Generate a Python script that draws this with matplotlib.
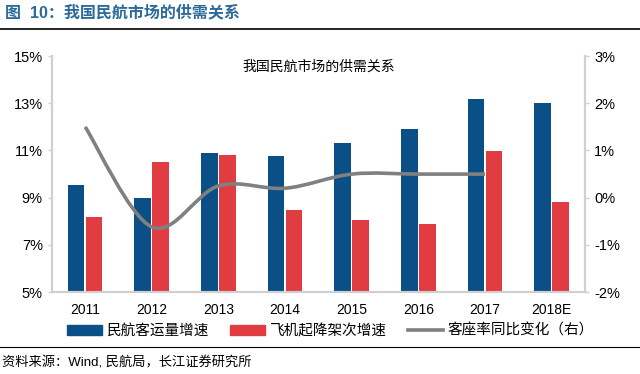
import matplotlib
matplotlib.use("Agg")
import matplotlib.pyplot as plt
import numpy as np
from matplotlib.path import Path
from matplotlib.patches import PathPatch, Patch
from matplotlib.lines import Line2D

plt.rcParams['font.family'] = ['Liberation Sans', 'Noto Sans CJK SC', 'DejaVu Sans']

categories = ['2011', '2012', '2013', '2014', '2015', '2016', '2017', '2018E']
passenger_growth = [9.55, 9.0, 10.9, 10.77, 11.33, 11.93, 13.18, 13.03]
flight_growth = [8.17, 10.5, 10.8, 8.47, 8.05, 7.88, 10.97, 8.8]
load_factor_change = [1.5, -0.62, 0.25, 0.2, 0.5, 0.5, 0.5]

left_ticks = [5, 7, 9, 11, 13, 15]
right_ticks = [-2, -1, 0, 1, 2, 3]

blue = '#0a4f86'
red = '#e03c41'
gray = '#808080'
axis_gray = '#d0d0d0'

fig = plt.figure(figsize=(6.4, 3.74), dpi=100)
ax = fig.add_axes([0.081, 0.219, 0.833, 0.631])
ax2 = ax.twinx()

x = np.arange(len(categories))
w = 0.25
off = 0.135
ax.bar(x - off, passenger_growth, w, color=blue, zorder=2)
ax.bar(x + off, flight_growth, w, color=red, zorder=2)
ax.set_ylim(5, 15)
ax.set_yticks(left_ticks)
ax.set_yticklabels([f'{t}%' for t in left_ticks])
ax.set_xlim(-0.5, len(categories) - 0.5)
ax.set_xticks(x)
ax.set_xticklabels(categories)

ax2.set_ylim(-2, 3)
ax2.set_yticks(right_ticks)
ax2.set_yticklabels([f'{t}%' for t in right_ticks])

# smoothed line (Bezier through data points, Catmull-Rom style)
lx = np.arange(len(load_factor_change), dtype=float)
ly = np.array(load_factor_change, dtype=float)
verts = [(lx[0], ly[0])]
codes = [Path.MOVETO]
n = len(lx)
t = 1.0 / 6.0
for i in range(n - 1):
    p0 = (lx[max(i - 1, 0)], ly[max(i - 1, 0)])
    p1 = (lx[i], ly[i])
    p2 = (lx[i + 1], ly[i + 1])
    p3 = (lx[min(i + 2, n - 1)], ly[min(i + 2, n - 1)])
    c1 = (p1[0] + (p2[0] - p0[0]) * t, p1[1] + (p2[1] - p0[1]) * t)
    c2 = (p2[0] - (p3[0] - p1[0]) * t, p2[1] - (p3[1] - p1[1]) * t)
    verts += [c1, c2, p2]
    codes += [Path.CURVE4] * 3
ax2.add_patch(PathPatch(Path(verts, codes), facecolor='none', edgecolor=gray,
                        lw=2.6, zorder=3, capstyle='butt'))

for a in (ax, ax2):
    a.spines['top'].set_visible(False)
    for s in ('left', 'right', 'bottom'):
        a.spines[s].set_color(axis_gray)
        a.spines[s].set_linewidth(1.5)
    a.tick_params(axis='y', colors=axis_gray, labelcolor='black', labelsize=10.5,
                  length=3, width=1)
ax.tick_params(axis='x', length=0, labelsize=10, pad=8)
ax.set_zorder(ax2.get_zorder() - 1)
ax.patch.set_visible(True)
ax2.patch.set_visible(False)

ax.text(0.5, 0.955, '我国民航市场的供需关系', transform=ax.transAxes,
        ha='center', va='center', fontsize=10)

fig.text(0.008, 0.967, '图  10：我国民航市场的供需关系', ha='left', va='center',
         fontsize=11.5, fontweight='bold', color='#2b6a99')
fig.add_artist(Line2D([0, 1], [0.922, 0.922], color='black', lw=1.2,
                      transform=fig.transFigure))
fig.add_artist(Line2D([0, 1], [0.072, 0.072], color='black', lw=0.8,
                      transform=fig.transFigure))
fig.text(0.003, 0.03, '资料来源：Wind, 民航局，长江证券研究所', ha='left',
         va='center', fontsize=9.5)

handles = [Patch(color=blue), Patch(color=red), Line2D([], [], color=gray, lw=2.6)]
labels = ['民航客运量增速', '飞机起降架次增速', '客座率同比变化（右）']
fig.legend(handles, labels, loc='center left', bbox_to_anchor=(0.105, 0.115),
           ncol=3, frameon=False, fontsize=10.5, handlelength=2.4,
           handleheight=0.6, handletextpad=0.35, columnspacing=1.4,
           borderaxespad=0, borderpad=0)

fig.savefig('out.png', dpi=100)
